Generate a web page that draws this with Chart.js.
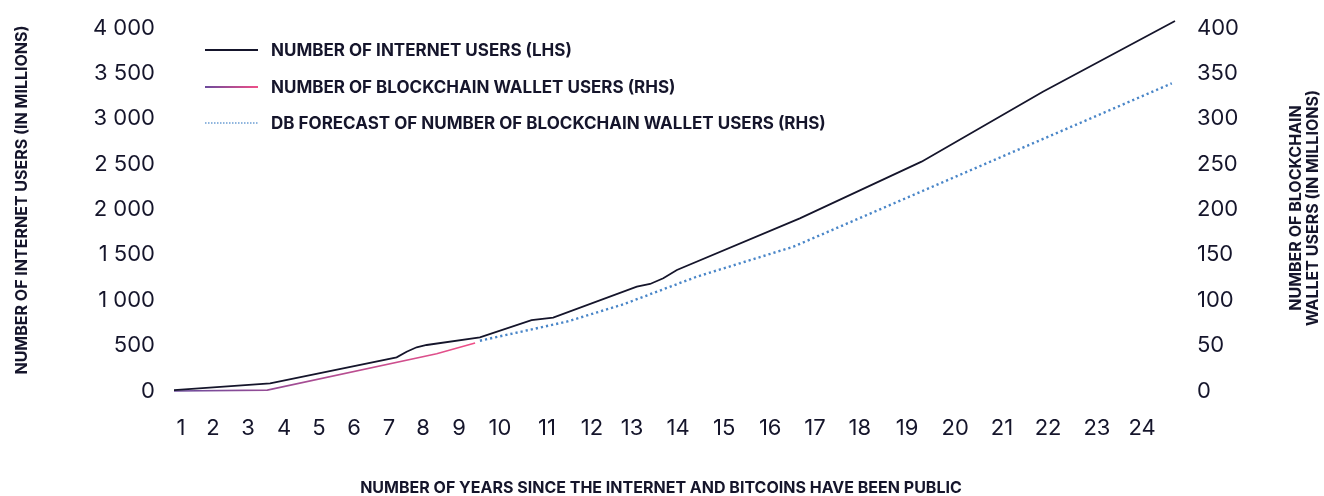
<!DOCTYPE html>
<html><head><meta charset="utf-8">
<script src="https://cdn.jsdelivr.net/npm/chart.js@4.4.1/dist/chart.umd.min.js"></script>
<style>html,body{margin:0;padding:0;background:#fff;}#wrap{width:1324px;height:496px;position:relative;}</style>
</head><body><div id="wrap"><canvas id="c" width="1324" height="496"></canvas></div>
<script>
// ---- data ----
const xTickLabels = ['1','2','3','4','5','6','7','8','9','10','11','12','13','14','15','16','17','18','19','20','21','22','23','24'];
const xTickAt = [0.175,0.974,1.848,2.747,3.621,4.496,5.370,6.219,7.118,8.142,9.316,10.44,11.44,12.59,13.74,14.89,16.01,17.13,18.31,19.51,20.68,21.83,23.05,24.18];

const internetX     = [0, 2.40, 5.56, 5.81, 6.06, 6.31, 7.64, 8.93, 9.47, 11.56, 11.89, 12.22, 12.56, 15.63, 18.67, 21.70, 25.0];
const internetUsers = [10, 85, 371, 433, 482, 507, 592, 782, 808, 1149, 1179, 1242, 1333, 1903, 2527, 3298, 4077];

const walletX     = [0, 2.33, 6.56, 7.52];
const walletUsers = [0, 1, 41, 53];

const forecastX     = [7.64, 9.81, 11.22, 13.06, 15.47, 24.92];
const forecastUsers = [55.4, 76.4, 95.5, 126, 159, 339];

const leftMax = 4000, leftStep = 500;
const rightMax = 400, rightStep = 50;

const seriesLabels = ['NUMBER OF INTERNET USERS (LHS)', 'NUMBER OF BLOCKCHAIN WALLET USERS (RHS)', 'DB FORECAST OF NUMBER OF BLOCKCHAIN WALLET USERS (RHS)'];
const xTitle = 'NUMBER OF YEARS SINCE THE INTERNET AND BITCOINS HAVE BEEN PUBLIC';
const leftTitle = 'NUMBER OF INTERNET USERS (IN MILLIONS)';
const rightTitle = ['NUMBER OF BLOCKCHAIN', 'WALLET USERS (IN MILLIONS)'];

// ---- styles ----
const INK = '#15152b';
const BLUE = '#4a86c8';
const PURPLE = '#6c4b9c';
const PINK = '#f04f88';
const FONT = 'Inter';

function pairs(xs, ys){ return xs.map((x,i)=>({x:x, y:ys[i]})); }

function pinkGradient(ctx, x0, x1){
  const g = ctx.createLinearGradient(x0, 0, x1, 0);
  g.addColorStop(0, PURPLE);
  g.addColorStop(1, PINK);
  return g;
}

const extras = {
  id: 'extras',
  afterDraw(chart){
    const {ctx} = chart;
    ctx.save();
    ctx.fillStyle = INK;
    // legend
    const rows = [50, 87, 123];
    const sx0 = 205, sx1 = 258, tx = 271;
    ctx.font = `bold 17px ${FONT}`;
    ctx.textBaseline = 'middle';
    ctx.textAlign = 'left';
    rows.forEach((y, i) => {
      ctx.beginPath();
      ctx.setLineDash(i === 2 ? [1.5, 1.5] : []);
      ctx.lineWidth = i === 2 ? 2 : 1.8;
      ctx.strokeStyle = i === 0 ? INK : (i === 1 ? pinkGradient(ctx, sx0, sx1) : '#8fb5de');
      ctx.moveTo(sx0, y); ctx.lineTo(sx1, y); ctx.stroke();
      ctx.fillText(seriesLabels[i], tx, y + 0.5);
    });
    ctx.setLineDash([]);
    // axis titles
    ctx.font = `bold 16px ${FONT}`;
    ctx.textAlign = 'center';
    ctx.fillText(xTitle, 661, 488);
    ctx.save();
    ctx.translate(22, 200);
    ctx.rotate(-Math.PI/2);
    ctx.fillText(leftTitle, 0, 0);
    ctx.restore();
    ctx.save();
    ctx.translate(1296, 208);
    ctx.rotate(-Math.PI/2);
    ctx.fillText(rightTitle[0], 0, 0);
    ctx.fillText(rightTitle[1], 0, 17);
    ctx.restore();
    ctx.restore();
  }
};

const fmt = v => {
  const s = String(v);
  return s.length > 3 ? s.slice(0, s.length-3) + ' ' + s.slice(-3) : s;
};

const fixV = (w) => (s) => { s.width = w; s.paddingTop = 0; s.paddingBottom = 0; };

new Chart(document.getElementById('c'), {
  type: 'line',
  data: {
    datasets: [
      { label: seriesLabels[0], data: pairs(internetX, internetUsers), yAxisID: 'y',
        borderColor: INK, borderWidth: 1.8, pointRadius: 0, tension: 0, clip: false },
      { label: seriesLabels[1], data: pairs(walletX, walletUsers), yAxisID: 'y2',
        borderColor: (c) => { const a = c.chart.chartArea; if (!a) return PINK; const xs = c.chart.scales.x; return pinkGradient(c.chart.ctx, xs.getPixelForValue(walletX[0]), xs.getPixelForValue(walletX[walletX.length-1])); },
        borderWidth: 1.6, pointRadius: 0, tension: 0, clip: false },
      { label: seriesLabels[2], data: pairs(forecastX, forecastUsers), yAxisID: 'y2',
        borderColor: BLUE, borderWidth: 2.4, borderDash: [2.2, 3], pointRadius: 0, tension: 0, clip: false }
    ]
  },
  options: {
    responsive: false,
    animation: false,
    layout: { autoPadding: false, padding: { top: 28, left: 0, right: 0, bottom: 0 } },
    plugins: { legend: { display: false }, tooltip: { enabled: false } },
    scales: {
      x: {
        type: 'linear', min: 0, max: 25,
        grid: { display: false, drawTicks: false }, border: { display: false },
        afterBuildTicks: (s) => { s.ticks = xTickAt.map(v => ({ value: v })); },
        afterFit: (s) => { s.height = 105; s.paddingLeft = 0; s.paddingRight = 0; },
        ticks: { autoSkip: false, maxRotation: 0, padding: 24, color: INK, font: { family: FONT, size: 22 },
                 callback: (v, i) => xTickLabels[i] }
      },
      y: {
        position: 'left', min: 0, max: leftMax,
        grid: { display: false, drawTicks: false }, border: { display: false },
        afterFit: fixV(174),
        ticks: { stepSize: leftStep, padding: 19, color: INK, font: { family: FONT, size: 22 }, callback: fmt }
      },
      y2: {
        position: 'right', min: 0, max: rightMax,
        grid: { display: false, drawTicks: false }, border: { display: false },
        afterFit: fixV(149),
        ticks: { stepSize: rightStep, padding: 22, color: INK, font: { family: FONT, size: 22 } }
      }
    }
  },
  plugins: [extras]
});
</script>
</body></html>
